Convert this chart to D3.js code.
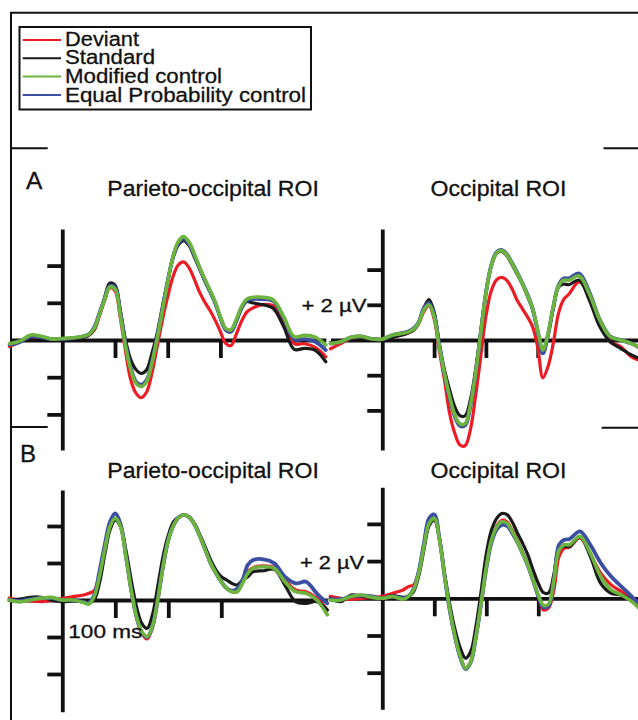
<!DOCTYPE html>
<html><head><meta charset="utf-8">
<script src="https://cdn.jsdelivr.net/npm/d3@7"></script>
<style>html,body{margin:0;padding:0;background:#fff}svg{display:block}</style>
</head><body><div id="chart"></div>
<script>
// time points (ms)
const times = [-100,-80,-60,-40,-20,0,20,40,50,60,70,80,90,100,110,120,130,140,150,160,170,180,190,200,210,220,230,240,250,260,270,280,290,300,310,320,330,340,350,360,380,400,420,440,460,480,500];

// Panel A, Parieto-occipital ROI (µV)
const aParDeviant  = [-0.35,-0.1,0.15,0.15,0.05,0.05,0.1,0.15,0.25,0.5,1.25,2.1,2.8,2.65,1.2,-0.6,-2.15,-2.87,-3.1,-2.8,-1.8,-0.36,1.07,2.33,3.4,4.03,4.2,3.9,3.3,2.6,2.06,1.6,1.07,0.45,-0.18,-0.3,0.3,1.0,1.5,1.7,1.9,1.85,0.9,-0.2,-0.2,-0.4,-0.9];
const aParStandard = [-0.25,-0.1,0.15,0.15,0.0,0.0,0.05,0.15,0.25,0.55,1.35,2.25,3.05,2.95,1.6,0.0,-1.07,-1.6,-1.8,-1.6,-0.72,0.36,1.8,3.2,4.4,5.1,5.34,5.1,4.5,3.85,3.2,2.6,2.0,1.2,0.55,0.45,1.0,1.7,2.07,2.0,1.9,1.71,0.72,-0.5,-0.45,-0.55,-1.17];
const aParModified = [-0.2,-0.05,0.27,0.2,0.05,0.08,0.12,0.2,0.3,0.6,1.35,2.15,2.85,2.75,1.35,-0.36,-1.6,-2.33,-2.5,-2.24,-1.25,0.09,1.6,3.14,4.48,5.29,5.56,5.29,4.66,3.94,3.3,2.69,2.06,1.25,0.62,0.55,1.1,1.8,2.2,2.29,2.3,2.16,1.26,0.18,0.25,0.15,-0.27];
const aParEqualProb= [-0.25,-0.1,0.2,0.15,0.05,0.05,0.1,0.2,0.3,0.65,1.4,2.2,2.9,2.85,1.5,-0.2,-1.5,-2.25,-2.4,-2.15,-1.2,0.15,1.65,3.15,4.45,5.2,5.45,5.2,4.6,3.9,3.25,2.65,2.0,1.2,0.55,0.45,1.0,1.7,2.12,2.2,2.2,2.1,1.2,0.05,0.05,-0.09,-0.54];

// Panel A, Occipital ROI
const aOccDeviant  = [-0.5,-0.2,0.1,0.15,0.05,0.05,0.2,0.3,0.4,0.55,0.9,1.6,1.95,1.2,-0.6,-2.27,-4.17,-5.3,-5.97,-6.0,-5.1,-3.2,-0.95,1.33,2.75,3.4,3.56,3.4,2.94,2.27,1.8,1.33,0.76,-0.4,-2.15,-1.5,-0.2,1.5,2.3,2.6,3.3,2.6,1.0,-0.1,-0.37,-0.93,-1.2];
const aOccStandard = [-0.15,-0.05,0.1,0.15,0.0,0.0,0.15,0.3,0.4,0.55,0.95,1.8,2.3,1.6,-0.2,-1.7,-2.84,-3.8,-4.3,-4.3,-3.4,-1.7,0.5,2.7,4.15,4.9,5.05,4.8,4.3,3.75,3.2,2.5,1.75,0.5,-0.76,0.3,1.8,3.0,3.18,3.14,3.4,2.24,0.75,-0.1,-0.47,-0.84,-1.1];
const aOccModified = [-0.2,-0.1,0.15,0.2,0.06,0.05,0.28,0.38,0.45,0.6,0.95,1.7,2.0,1.33,-0.38,-1.9,-3.2,-4.26,-4.77,-4.75,-3.7,-1.9,0.38,2.65,4.17,4.92,5.08,4.83,4.36,3.8,3.22,2.56,1.8,0.57,-0.57,0.38,1.9,3.05,3.4,3.4,3.64,2.6,1.12,0.19,0.0,-0.19,-0.47];
const aOccEqualProb= [-0.2,-0.1,0.15,0.2,0.06,0.05,0.28,0.4,0.48,0.65,1.0,1.8,2.1,1.45,-0.3,-1.95,-3.3,-4.35,-4.88,-4.85,-3.8,-1.95,0.35,2.65,4.2,4.97,5.12,4.88,4.4,3.85,3.25,2.6,1.8,0.5,-0.76,0.3,1.85,3.1,3.5,3.5,3.78,2.7,1.15,0.2,0.0,-0.19,-0.5];

// Panel B, Parieto-occipital ROI
const bParDeviant  = [0.1,0.0,-0.05,-0.09,0.0,0.09,0.18,0.27,0.36,0.5,1.35,2.7,3.96,4.41,3.96,2.34,0.5,-0.95,-1.8,-2.1,-1.5,0.0,1.8,3.24,4.05,4.47,4.6,4.47,4.05,3.42,2.7,1.98,1.44,0.99,0.63,0.45,0.45,0.95,1.53,1.75,1.84,1.75,1.1,0.54,0.45,0.09,-0.54];
const bParStandard = [0.0,0.05,0.15,0.15,0.0,-0.09,-0.05,-0.1,-0.15,0.0,0.9,2.43,3.78,4.32,3.96,2.7,1.08,-0.36,-1.26,-1.53,-0.81,0.72,2.34,3.5,4.23,4.5,4.6,4.45,4.1,3.5,2.85,2.16,1.62,1.26,1.08,0.9,0.81,1.08,1.26,1.53,1.58,1.66,0.81,-0.09,-0.18,-0.09,-0.54];
const bParModified = [0.0,-0.1,0.0,0.1,0.14,0.0,0.0,-0.14,-0.22,0.18,1.26,2.7,3.96,4.41,3.96,2.34,0.54,-0.9,-1.71,-1.98,-1.44,0.0,1.8,3.24,4.05,4.47,4.6,4.47,4.05,3.42,2.7,1.98,1.44,0.99,0.63,0.45,0.45,0.9,1.44,1.71,1.8,1.71,0.99,0.45,0.36,0.0,-0.8];
const bParEqualProb= [0.0,-0.05,0.05,0.1,0.1,0.0,0.0,-0.1,-0.15,0.25,1.53,2.97,4.23,4.68,4.1,2.4,0.55,-0.9,-1.75,-2.0,-1.45,0.0,1.8,3.24,4.05,4.47,4.6,4.47,4.05,3.42,2.7,1.98,1.44,0.99,0.63,0.5,0.6,1.08,1.9,2.16,2.2,1.98,1.26,0.9,0.99,0.36,-0.18];

// Panel B, Occipital ROI
const bOccDeviant  = [0.1,0.0,-0.05,0.0,0.05,0.1,0.27,0.45,0.63,0.72,1.4,2.77,4.03,4.3,3.13,1.16,-0.63,-2.06,-3.13,-3.76,-3.4,-2.06,-0.27,1.7,3.13,3.9,4.2,4.1,3.65,3.1,2.45,1.8,1.0,0.15,-0.63,-0.5,0.45,2.25,2.7,2.75,3.25,2.4,1.35,0.72,0.36,0.0,-0.6];
const bOccStandard = [0.0,-0.18,0.18,0.1,0.05,0.0,0.15,0.05,0.1,0.35,1.2,2.6,3.9,4.2,3.2,1.3,-0.36,-1.7,-2.68,-3.22,-2.86,-1.52,0.36,2.4,3.67,4.3,4.56,4.5,4.1,3.5,2.95,2.33,1.52,0.8,0.3,0.3,1.3,2.7,2.79,2.79,3.3,2.25,0.8,0.27,0.18,-0.1,-0.7];
const bOccModified = [-0.1,-0.1,0.1,0.18,0.05,0.0,0.09,-0.05,0.09,0.45,1.34,2.77,4.03,4.3,3.13,1.16,-0.63,-2.06,-3.13,-3.76,-3.4,-2.06,-0.27,1.7,3.13,3.85,4.11,4.03,3.58,3.04,2.41,1.79,0.98,0.18,-0.38,-0.3,0.98,2.6,2.88,2.88,3.33,2.43,1.17,0.45,0.18,-0.18,-0.72];
const bOccEqualProb= [-0.05,-0.05,0.1,0.15,0.1,0.0,0.1,0.0,0.1,0.5,1.45,2.95,4.3,4.5,3.2,1.15,-0.7,-2.1,-3.2,-3.8,-3.45,-2.1,-0.3,1.6,3.0,3.7,3.94,3.9,3.5,3.0,2.4,1.75,0.95,0.1,-0.5,-0.4,1.0,2.88,3.15,3.19,3.6,2.88,1.9,1.17,0.63,0.09,-0.5];

const seriesNames  = ["Deviant","Standard","Modified control","Equal Probability control"];
const seriesColors = ["#ed1c24","#1a1a1a","#6cb33f","#3b4ea1"];
const panelTitles  = ["Parieto-occipital ROI","Occipital ROI"];
const rowLetters   = ["A","B"];
const yTickValues  = [-4,-2,2,4];
const xTickValues  = [100,200,300];
const uvLabel = "+ 2 \u00b5V";
const msLabel = "100 ms";

const W = 638, H = 720;
const FONT = "'Liberation Sans', Arial, Helvetica, sans-serif";
const svg = d3.select("#chart").append("svg").attr("width",W).attr("height",H)
  .attr("font-family",FONT);
svg.append("rect").attr("width",W).attr("height",H).attr("fill","#fff");

function txt(s,x,y,size,len){
  const t = svg.append("text").attr("x",x).attr("y",y).attr("font-size",size)
    .attr("fill","#111").attr("stroke","#111").attr("stroke-width",0.3).text(s);
  if(len) t.attr("textLength",len).attr("lengthAdjust","spacingAndGlyphs");
  return t;
}

// frame and separators
const frame = svg.append("g").attr("stroke","#111").attr("stroke-width",2).attr("fill","none");
frame.append("path").attr("d","M10,12.7H638");
frame.append("path").attr("d","M11,12V720");
frame.append("path").attr("d","M11,148.3H47.7");
frame.append("path").attr("d","M603.5,148.3H638");
frame.append("path").attr("d","M11,427H47.7");
frame.append("path").attr("d","M601.7,427.7H638");

// legend
svg.append("rect").attr("x",19.5).attr("y",27).attr("width",291.5).attr("height",82.5)
  .attr("fill","#fff").attr("stroke","#111").attr("stroke-width",2);
const legendWidths = [74,90,157,241];
seriesNames.forEach((n,i)=>{
  const ly = 40 + i*18.3;
  svg.append("line").attr("x1",22.7).attr("x2",61).attr("y1",ly).attr("y2",ly)
    .attr("stroke",seriesColors[i]).attr("stroke-width",2);
  txt(n,65,45.7+i*18.6,20,legendWidths[i]);
});

const panels = [
  {row:0,col:0,data:[aParDeviant,aParStandard,aParModified,aParEqualProb],xZero:62.3,pxms:0.527,yZero:340,pxuv:18.6,top:229,bottom:450},
  {row:0,col:1,data:[aOccDeviant,aOccStandard,aOccModified,aOccEqualProb],xZero:382.3,pxms:0.518,yZero:340,pxuv:17.6,top:229,bottom:450},
  {row:1,col:0,data:[bParDeviant,bParStandard,bParModified,bParEqualProb],xZero:62.3,pxms:0.53,yZero:600,pxuv:18.5,top:490,bottom:711.7},
  {row:1,col:1,data:[bOccDeviant,bOccStandard,bOccModified,bOccEqualProb],xZero:382.3,pxms:0.52,yZero:598.3,pxuv:18.6,top:487.3,bottom:709.3}
];
const drawOrder = [0,1,3,2];
const widths = [3.2,3.2,3.6,3.8];

panels.forEach(p=>{
  const x = d3.scaleLinear().domain([-100,500]).range([p.xZero-100*p.pxms, p.xZero+500*p.pxms]);
  const vMax = (p.yZero-p.top)/p.pxuv, vMin = (p.yZero-p.bottom)/p.pxuv;
  const y = d3.scaleLinear().domain([vMin,vMax]).range([p.bottom,p.top]);
  const g = svg.append("g");
  const ya = g.append("g").attr("transform",`translate(${x(0)},0)`)
    .call(d3.axisLeft(y).tickValues(yTickValues).tickSize(15).tickSizeOuter(0).tickFormat(""));
  const xa = g.append("g").attr("transform",`translate(0,${y(0)})`)
    .call(d3.axisBottom(x).tickValues(xTickValues).tickSize(18).tickSizeOuter(0).tickFormat(""));
  [ya,xa].forEach(a=>{
    a.selectAll("path,line").attr("stroke","#111").attr("stroke-width",3.8);
  });
  const line = d3.line().x((d,i)=>x(times[i])).y(d=>y(d)).curve(d3.curveCatmullRom.alpha(0.5));
  drawOrder.forEach(si=>{
    g.append("path").datum(p.data[si]).attr("d",line).attr("fill","none")
      .attr("stroke",seriesColors[si]).attr("stroke-width",widths[si])
      .attr("stroke-linejoin","round").attr("stroke-linecap","round");
  });
});

// titles and labels
txt(rowLetters[0],26,189.3,24.5);
txt(rowLetters[1],20,461.7,24);
txt(panelTitles[0],107.3,195.8,21.5,211.5);
txt(panelTitles[1],430.5,195.8,21.5,136);
txt(panelTitles[0],107.3,477.7,21.5,211.5);
txt(panelTitles[1],430.5,477.7,21.5,136);
txt(uvLabel,301.5,311.7,18.5,65);
txt(uvLabel,300,569.3,18.5,64);
txt(msLabel,68.3,638.3,18.5,74);
</script>
</body></html>
